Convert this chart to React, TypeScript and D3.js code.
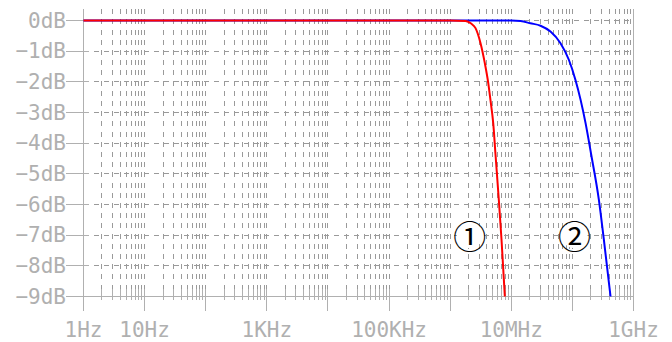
import * as d3 from "d3";
import React from "react";

// [frequency in Hz, gain in dB]
const curve1: [number, number][] = [
  [1, 0], [1e6, 0], [1.78e6, -0.02], [2.2e6, -0.1], [2.6e6, -0.25], [3.14e6, -0.74],
  [3.69e6, -1.39], [4.2e6, -2.04], [4.63e6, -2.69], [5.06e6, -3.34], [5.52e6, -4.37],
  [6.25e6, -5.84], [6.92e6, -7.14], [7.85e6, -9],
];
const curve2: [number, number][] = [
  [1, 0], [1e7, 0], [1.42e7, -0.02], [2.06e7, -0.09], [3.01e7, -0.17], [4.38e7, -0.36],
  [6.39e7, -0.74], [8.75e7, -1.28], [1.12e8, -1.93], [1.36e8, -2.58], [1.64e8, -3.34],
  [2.03e8, -4.37], [2.71e8, -5.84], [3.27e8, -7.14], [4.21e8, -9],
];
const dbTicks = [0, -1, -2, -3, -4, -5, -6, -7, -8, -9];
const dbLabels = ["0dB", "−1dB", "−2dB", "−3dB", "−4dB", "−5dB", "−6dB", "−7dB", "−8dB", "−9dB"];
const freqLabelValues = [1, 10, 1e3, 1e5, 1e7, 1e9];
const freqLabels = ["1Hz", "10Hz", "1KHz", "100KHz", "10MHz", "1GHz"];
const curveLabels = [
  { text: "①", at: [2.1e6, -7] },
  { text: "②", at: [1.08e8, -7] },
];

const width = 672;
const height = 342;
const axisColor = "#b0b0b0";
const gridColor = "#9a9a9a";
const font = "'DejaVu Sans Mono', monospace";

const x = d3.scaleLog().domain([1, 1e9]).range([83.5, 633.5]);
const y = d3.scaleLinear().domain([-9, 0]).range([296.5, 20.5]);
const yTop = y(0.37);

// every 1..9 x 10^k line between 1Hz and 1GHz
const gridFreqs: number[] = [];
for (let k = 0; k < 9; k++) {
  for (let m = 1; m < 10; m++) gridFreqs.push(m * Math.pow(10, k));
}
const majors = d3.range(0, 10).map((k) => Math.pow(10, k));

const line = d3
  .line<[number, number]>()
  .x((d) => x(d[0]))
  .y((d) => y(d[1]))
  .curve(d3.curveMonotoneX);

export default function App() {
  return (
    <svg
      width={width}
      height={height}
      style={{ position: "absolute", left: 0, top: 0, background: "#fff" }}
    >
      {/* vertical grid */}
      <g shapeRendering="crispEdges">
        {gridFreqs
          .filter((f) => f > 1)
          .map((f, i) => (
            <line
              key={"v" + i}
              x1={x(f)}
              x2={x(f)}
              y1={yTop}
              y2={y(-9)}
              stroke={gridColor}
              strokeDasharray="5,5.2"
            />
          ))}
        {dbTicks
          .filter((d) => d > -9)
          .map((d) => (
            <line
              key={"h" + d}
              x1={x(1)}
              x2={x(1e9)}
              y1={y(d)}
              y2={y(d)}
              stroke={gridColor}
              strokeDasharray="5,5"
            />
          ))}
      </g>

      {/* axes */}
      <g shapeRendering="crispEdges" stroke={axisColor}>
        <line x1={x(1)} x2={x(1)} y1={yTop} y2={311} />
        <line x1={x(1e9)} x2={x(1e9)} y1={yTop} y2={311} />
        <line x1={x(1)} x2={x(1e9)} y1={y(-9)} y2={y(-9)} />
        {dbTicks.map((d) => (
          <line key={"yt" + d} x1={66} x2={x(1) + 5} y1={y(d)} y2={y(d)} />
        ))}
        {gridFreqs
          .filter((f) => f > 1)
          .map((f, i) => (
            <line key={"mt" + i} x1={x(f)} x2={x(f)} y1={y(-9) - 8} y2={y(-9) + 3} />
          ))}
        {majors.map((f) => (
          <line key={"Mt" + f} x1={x(f)} x2={x(f)} y1={y(-9) - 8} y2={311} />
        ))}
      </g>

      <g fill={axisColor} fontFamily={font} fontSize={21}>
        {dbTicks.map((d, i) => (
          <text key={"yl" + d} x={66} y={y(d)} textAnchor="end" dominantBaseline="central">
            {dbLabels[i]}
          </text>
        ))}
        {freqLabelValues.map((f, i) => (
          <text key={"xl" + f} x={x(f)} y={337} textAnchor="middle">
            {freqLabels[i]}
          </text>
        ))}
      </g>

      <path d={line(curve2) || ""} fill="none" stroke="#0000ff" strokeWidth={2} />
      <path d={line(curve1) || ""} fill="none" stroke="#ff0000" strokeWidth={2} />

      {curveLabels.map((c) => (
        <g key={c.text} transform={`translate(${x(c.at[0])},${y(c.at[1])})`}>
          <circle r={13} fill="#fff" />
          <text
            textAnchor="middle"
            dominantBaseline="central"
            fontFamily="'Noto Sans CJK JP', 'DejaVu Sans', sans-serif"
            fontSize={33}
            fill="#000"
          >
            {c.text}
          </text>
        </g>
      ))}
    </svg>
  );
}
